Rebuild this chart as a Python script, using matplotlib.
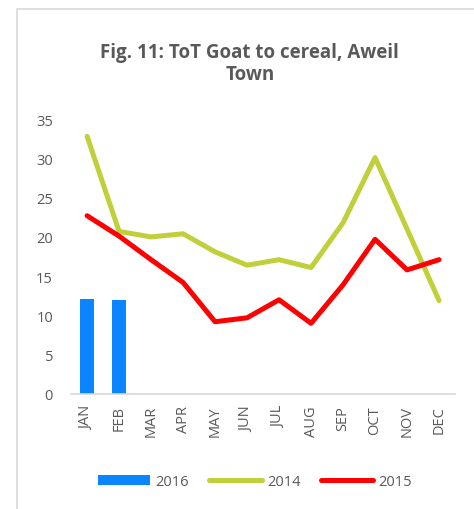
import matplotlib.pyplot as plt
from matplotlib.patches import Rectangle

plt.rcParams['font.family'] = ['Open Sans', 'DejaVu Sans']

# Data
months = ['JAN', 'FEB', 'MAR', 'APR', 'MAY', 'JUN',
          'JUL', 'AUG', 'SEP', 'OCT', 'NOV', 'DEC']
tot_2016 = [12.1, 12.0]
tot_2014 = [32.8, 20.7, 20.0, 20.4, 18.1, 16.4, 17.1, 16.1, 21.8, 30.1, 21.0, 11.9]
tot_2015 = [22.7, 20.1, 17.1, 14.2, 9.2, 9.7, 12.0, 9.0, 13.9, 19.7, 15.8, 17.1]

text_color = '#595959'

fig = plt.figure(figsize=(4.74, 5.10), dpi=100)

# chart frame like the Excel chart area
fig.patches.append(Rectangle((17 / 474, -0.1), 1.2, 1.1 - 10 / 510,
                             transform=fig.transFigure, fill=False,
                             edgecolor='#d9d9d9', linewidth=1.2))

ax = fig.add_axes([0.150, 0.2255, 0.810, 0.539])

x = list(range(len(months)))
b16 = ax.bar(x[:len(tot_2016)], tot_2016, width=0.45, color='#0A84FF', label='2016', zorder=2)
l14, = ax.plot(x, tot_2014, color='#C0CF3A', linewidth=3.6, label='2014',
               solid_capstyle='round', solid_joinstyle='round', zorder=3)
l15, = ax.plot(x, tot_2015, color='#FF0000', linewidth=3.6, label='2015',
               solid_capstyle='round', solid_joinstyle='round', zorder=3)

ax.set_xlim(-0.5, 11.5)
ax.set_ylim(0, 35)
ax.set_yticks(range(0, 36, 5))
ax.set_xticks(x)
ax.set_xticklabels(months, rotation=90)
ax.tick_params(length=0, labelsize=10.5, labelcolor=text_color)
ax.tick_params(axis='y', pad=13)
ax.tick_params(axis='x', pad=8)

for side in ['top', 'right', 'left']:
    ax.spines[side].set_visible(False)
ax.spines['bottom'].set_color('#d9d9d9')
ax.spines['bottom'].set_linewidth(1.2)

fig.text(0.527, 0.875, 'Fig. 11: ToT Goat to cereal, Aweil\nTown', ha='center',
         va='center', fontsize=13.5, fontweight='bold', color=text_color,
         linespacing=1.15)

fig.legend([b16, l14, l15], ['2016', '2014', '2015'], loc='center',
           bbox_to_anchor=(0.538, 0.053), ncol=3, frameon=False,
           fontsize=10.5, labelcolor=text_color, handlelength=3.6,
           columnspacing=1.4, handletextpad=0.35)

plt.savefig('out.png', dpi=100)
